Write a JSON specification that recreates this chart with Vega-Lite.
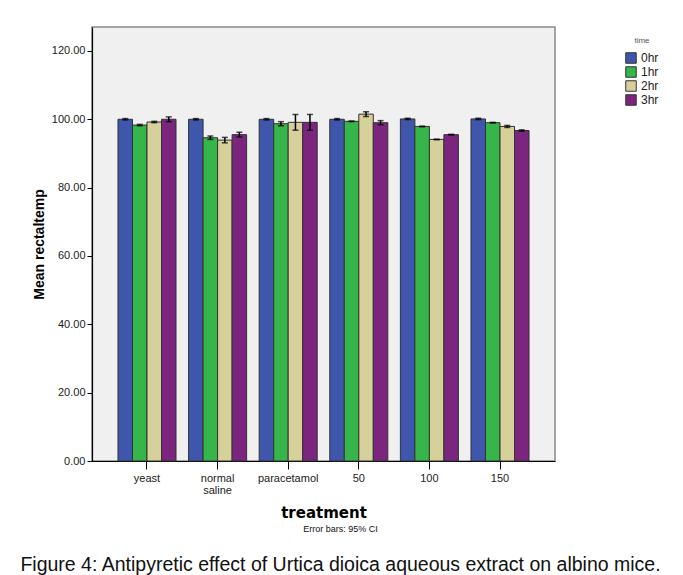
{
  "$schema": "https://vega.github.io/schema/vega-lite/v6.json",
  "width": 463,
  "height": 434,
  "autosize": {"type": "none"},
  "padding": {"left": 92, "top": 27, "right": 128, "bottom": 114},
  "background": "white",
  "config": {
    "font": "Liberation Sans",
    "view": {"fill": "#f0f0f0", "stroke": "#8a8a8a", "strokeWidth": 1.5}
  },
  "title": {
    "text": "Error bars: 95% CI",
    "subtitle": "Figure 4: Antipyretic effect of Urtica dioica aqueous extract on albino mice.",
    "orient": "bottom",
    "anchor": "middle",
    "frame": "group",
    "dx": 17,
    "offset": 5,
    "fontSize": 9,
    "fontWeight": "normal",
    "color": "#111",
    "subtitleFontSize": 19.5,
    "subtitleColor": "#111",
    "subtitlePadding": 22,
    "font": "Liberation Sans",
    "subtitleFont": "Liberation Sans"
  },
  "data": {
    "values": [
      {"treatment": "yeast", "time": "0hr", "mean": 100.0, "lo": 99.8, "hi": 100.2},
      {"treatment": "yeast", "time": "1hr", "mean": 98.3, "lo": 98.1, "hi": 98.5},
      {"treatment": "yeast", "time": "2hr", "mean": 99.2, "lo": 99.0, "hi": 99.4},
      {"treatment": "yeast", "time": "3hr", "mean": 100.0, "lo": 99.3, "hi": 100.7},
      {"treatment": "normal saline", "time": "0hr", "mean": 100.0, "lo": 99.8, "hi": 100.2},
      {"treatment": "normal saline", "time": "1hr", "mean": 94.6, "lo": 94.1, "hi": 95.1},
      {"treatment": "normal saline", "time": "2hr", "mean": 93.9, "lo": 93.1, "hi": 94.7},
      {"treatment": "normal saline", "time": "3hr", "mean": 95.5, "lo": 94.8, "hi": 96.2},
      {"treatment": "paracetamol", "time": "0hr", "mean": 100.0, "lo": 99.8, "hi": 100.2},
      {"treatment": "paracetamol", "time": "1hr", "mean": 98.7, "lo": 98.1, "hi": 99.3},
      {"treatment": "paracetamol", "time": "2hr", "mean": 99.1, "lo": 96.8, "hi": 101.4},
      {"treatment": "paracetamol", "time": "3hr", "mean": 99.1, "lo": 96.8, "hi": 101.4},
      {"treatment": "50", "time": "0hr", "mean": 100.0, "lo": 99.8, "hi": 100.2},
      {"treatment": "50", "time": "1hr", "mean": 99.4, "lo": 99.3, "hi": 99.5},
      {"treatment": "50", "time": "2hr", "mean": 101.5, "lo": 100.8, "hi": 102.2},
      {"treatment": "50", "time": "3hr", "mean": 99.0, "lo": 98.4, "hi": 99.6},
      {"treatment": "100", "time": "0hr", "mean": 100.1, "lo": 99.9, "hi": 100.3},
      {"treatment": "100", "time": "1hr", "mean": 97.9, "lo": 97.8, "hi": 98.0},
      {"treatment": "100", "time": "2hr", "mean": 94.1, "lo": 94.0, "hi": 94.2},
      {"treatment": "100", "time": "3hr", "mean": 95.5, "lo": 95.4, "hi": 95.6},
      {"treatment": "150", "time": "0hr", "mean": 100.1, "lo": 99.9, "hi": 100.3},
      {"treatment": "150", "time": "1hr", "mean": 99.0, "lo": 98.9, "hi": 99.1},
      {"treatment": "150", "time": "2hr", "mean": 97.9, "lo": 97.6, "hi": 98.2},
      {"treatment": "150", "time": "3hr", "mean": 96.7, "lo": 96.5, "hi": 96.9}
    ]
  },
  "encoding": {
    "x": {
      "field": "treatment",
      "type": "nominal",
      "sort": ["yeast", "normal saline", "paracetamol", "50", "100", "150"],
      "scale": {"paddingInner": 0.178, "paddingOuter": 0.368},
      "axis": {
        "title": "treatment",
        "titleFont": "DejaVu Sans",
        "titleFontSize": 15,
        "titleFontWeight": "bold",
        "titleColor": "#000",
        "titlePadding": 10,
        "labelAngle": 0,
        "labelFontSize": 11,
        "labelColor": "#222",
        "labelPadding": 3,
        "labelExpr": "split(datum.label, ' ')",
        "labelLineHeight": 12,
        "tickSize": 8,
        "tickColor": "#000",
        "domainColor": "#000",
        "domainWidth": 1.2
      }
    },
    "xOffset": {
      "field": "time",
      "type": "nominal",
      "scale": {"paddingInner": 0, "paddingOuter": 0}
    }
  },
  "layer": [
    {
      "mark": {"type": "bar", "stroke": "#333", "strokeWidth": 1},
      "encoding": {
        "y": {
          "field": "mean",
          "type": "quantitative",
          "scale": {"domain": [0, 127], "nice": false},
          "axis": {
            "title": "Mean rectaltemp",
            "titleFont": "Liberation Sans",
            "titleFontSize": 14,
            "titleFontWeight": "bold",
            "titleColor": "#000",
            "titlePadding": 5,
            "values": [0, 20, 40, 60, 80, 100, 120],
            "format": ".2f",
            "labelFontSize": 11,
            "labelColor": "#222",
            "tickSize": 5,
            "tickColor": "#000",
            "domainColor": "#000",
            "domainWidth": 1.2,
            "grid": false
          }
        },
        "color": {
          "field": "time",
          "type": "nominal",
          "scale": {
            "domain": ["0hr", "1hr", "2hr", "3hr"],
            "range": ["#3f56ad", "#36b54a", "#d6d19a", "#7b257f"]
          },
          "legend": {
            "title": "time",
            "orient": "right",
            "offset": 60,
            "padding": 10,
            "titleFontSize": 8,
            "titleFontWeight": "normal",
            "titleColor": "#555",
            "titlePadding": 6,
            "titleAnchor": "middle",
            "labelFontSize": 12,
            "labelColor": "#222",
            "symbolType": "square",
            "symbolSize": 110,
            "symbolStrokeColor": "#333",
            "symbolStrokeWidth": 1,
            "rowPadding": 0,
            "clipHeight": 14,
            "labelOffset": 4
          }
        }
      }
    },
    {
      "mark": {"type": "rule", "color": "#000", "strokeWidth": 1.5},
      "encoding": {
        "y": {"field": "lo", "type": "quantitative"},
        "y2": {"field": "hi"}
      }
    },
    {
      "mark": {"type": "tick", "color": "#000", "thickness": 1.5, "size": 6},
      "encoding": {"y": {"field": "lo", "type": "quantitative"}}
    },
    {
      "mark": {"type": "tick", "color": "#000", "thickness": 1.5, "size": 6},
      "encoding": {"y": {"field": "hi", "type": "quantitative"}}
    }
  ]
}
